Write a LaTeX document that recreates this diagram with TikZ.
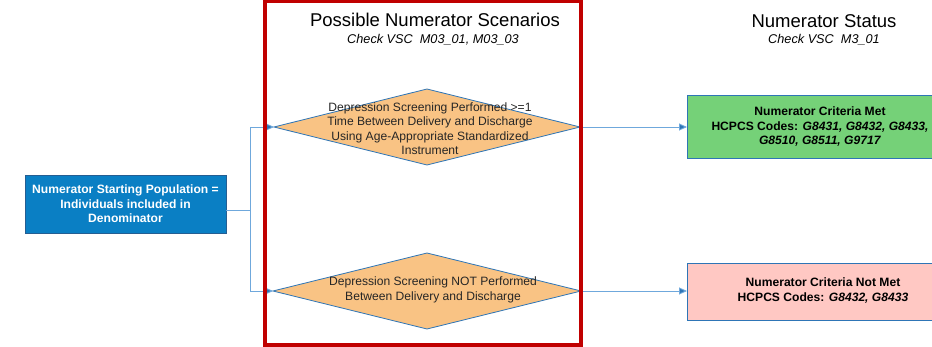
\documentclass[tikz,border=0pt]{standalone}
\usepackage{fontspec}
\setmainfont{Liberation Sans}
\usetikzlibrary{arrows.meta}
\definecolor{frameRed}{HTML}{C00000}
\definecolor{startBlue}{HTML}{0A7FC4}
\definecolor{edgeBlue}{HTML}{2E75B6}
\definecolor{lineBlue}{HTML}{6FA8DC}
\definecolor{decisionFill}{HTML}{F9C384}
\definecolor{metFill}{HTML}{75D178}
\definecolor{notMetFill}{HTML}{FFC8C3}
\tikzset{
  pic units/.style={x=1pt,y=-1pt},
  startbox/.style={draw=edgeBlue!80!black,fill=startBlue,line width=0.8pt},
  decision/.style={draw=edgeBlue,fill=decisionFill,line width=0.8pt},
  resultbox/.style={draw=edgeBlue,line width=0.8pt},
  boxtext/.style={align=center,font=\fontsize{12.1}{14.5}\selectfont\bfseries},
  dectext/.style={align=center,font=\fontsize{12.1}{14.5}\selectfont,text=black!85},
  heading/.style={font=\fontsize{18.5}{20}\selectfont},
  subheading/.style={font=\fontsize{12.7}{14}\selectfont\itshape},
  link/.style={draw=lineBlue,line width=0.9pt},
  flow/.style={link,-{Triangle[length=8pt,width=7pt,fill=edgeBlue]}}
}
\begin{document}
\begin{tikzpicture}[pic units]
\useasboundingbox (0,0) rectangle (932,347);
\clip (0,0) rectangle (932,347);
\fill[white] (0,0) rectangle (932,347);

% scenario frame
\draw[frameRed,line width=4pt] (265,1) rectangle (581,345);

% headings
\node[heading] (scenTitle) at (435,20) {Possible Numerator Scenarios};
\node[subheading] (scenSub) at (433,40) {Check VSC\ \ M03\_01, M03\_03};
\node[heading] (statTitle) at (824,21) {Numerator Status};
\node[subheading] (statSub) at (824,40) {Check VSC\ \ M3\_01};

% starting population
\draw[startbox] (25,175) rectangle (226,233);
\node[boxtext,text=white] (start) at (125.5,204) {Numerator Starting Population =\\Individuals included in\\Denominator};
\coordinate (startOut) at (226,210);
\coordinate (split) at (250,210);

% decision diamonds
\coordinate (d1top) at (427,89);
\coordinate (d1in) at (274,127);
\coordinate (d1out) at (580,127);
\coordinate (d1bot) at (427,165);
\draw[decision] (d1top) -- (d1out) -- (d1bot) -- (d1in) -- cycle;
\node[dectext] (d1) at (430,128.5) {Depression Screening Performed >=1\\Time Between Delivery and Discharge\\Using Age-Appropriate Standardized\\Instrument};

\coordinate (d2top) at (427,253);
\coordinate (d2in) at (273,291);
\coordinate (d2out) at (581,291);
\coordinate (d2bot) at (427,329);
\draw[decision] (d2top) -- (d2out) -- (d2bot) -- (d2in) -- cycle;
\node[dectext] (d2) at (433,290) {Depression Screening NOT Performed\\Between Delivery and Discharge};

% outcomes
\draw[resultbox,fill=metFill] (687,95) rectangle (955,158);
\node[boxtext] (met) at (820,127) {Numerator Criteria Met\\HCPCS Codes: \textit{G8431, G8432, G8433,}\\\textit{G8510, G8511, G9717}};
\coordinate (metIn) at (687,127);

\draw[resultbox,fill=notMetFill] (687,263) rectangle (960,320);
\node[boxtext] (notmet) at (823,290.5) {Numerator Criteria Not Met\\HCPCS Codes: \textit{G8432, G8433}};
\coordinate (notmetIn) at (687,291);

% connectors
\draw[link] (startOut) -- (split);
\draw[flow] (split) |- (d1in);
\draw[flow] (split) |- (d2in);
\draw[flow] (d1out) -- (metIn);
\draw[flow] (d2out) -- (notmetIn);

% frame drawn again over the connectors crossing it
\draw[frameRed,line width=4pt] (265,1) rectangle (581,345);
\end{tikzpicture}
\end{document}
